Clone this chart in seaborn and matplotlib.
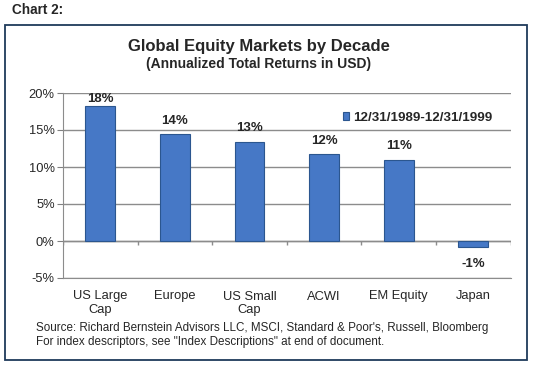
import matplotlib
matplotlib.use("Agg")
import matplotlib.pyplot as plt
import seaborn as sns
from matplotlib.patches import Rectangle

# chart data
categories = ["US Large\nCap", "Europe", "US Small\nCap", "ACWI", "EM Equity", "Japan"]
returns = [18.3, 14.4, 13.4, 11.7, 11.0, -0.8]
series_name = "12/31/1989-12/31/1999"
yticks = [-5, 0, 5, 10, 15, 20]

sns.set_style("white")
plt.rcParams["font.family"] = ["Liberation Sans", "DejaVu Sans"]

fig = plt.figure(figsize=(5.36, 3.72), dpi=100)
ax = fig.add_axes([63 / 536, 1 - 278 / 372, 447.7 / 536, 185 / 372])

bar_col = "#4678C6"
sns.barplot(x=categories, y=returns, color=bar_col, saturation=1, width=0.4, ax=ax,
            edgecolor="#2B568F", linewidth=0.8, label=series_name, zorder=3)

ax.set_ylim(-5, 20)
ax.set_xlim(-0.5, len(categories) - 0.5)
ax.set_yticks(yticks)
ax.set_yticklabels([f"{t}%" for t in yticks], fontsize=9.3)
ax.tick_params(axis="y", length=4, color="#808080", pad=2, direction="out", left=True)
ax.tick_params(axis="x", length=0, pad=9, labelsize=9.3)
for lbl in ax.get_xticklabels():
    lbl.set_linespacing(1.15)
ax.yaxis.grid(True, color="#8c8c8c", linewidth=1.0, zorder=0)
ax.set_axisbelow(True)
for s in ["top", "right"]:
    ax.spines[s].set_visible(False)
ax.spines["left"].set_color("#8c8c8c")
ax.spines["bottom"].set_color("#8c8c8c")
ax.set_xlabel("")
ax.set_ylabel("")

# zero line with small category ticks
ax.axhline(0, color="#8c8c8c", linewidth=1.0, zorder=2)
for i in range(len(categories) + 1):
    ax.vlines(i - 0.5, -0.55, 0, color="#8c8c8c", linewidth=1.0, zorder=2)

# value labels
for i, v in enumerate(returns):
    if v >= 0:
        ax.text(i, min(v + 1.0, 18.4), f"{v:.0f}%", ha="center", va="bottom",
                fontsize=9.5, fontweight="bold")
    else:
        ax.text(i, v - 1.5, f"{round(v):.0f}%", ha="center", va="top",
                fontsize=9.5, fontweight="bold")

leg = ax.legend(loc="center left", bbox_to_anchor=(0.61, 0.865), frameon=False,
                handlelength=0.5, handleheight=0.5, handletextpad=0.25,
                borderpad=0, prop={"weight": "bold", "size": 9.6})

# titles and notes
fig.text(12 / 536, 1 - 10 / 372, "Chart 2:", fontsize=9.8, fontweight="bold",
         ha="left", va="center")
fig.text(259 / 536, 1 - 47 / 372, "Global Equity Markets by Decade", fontsize=12,
         fontweight="bold", ha="center", va="center")
fig.text(259 / 536, 1 - 64 / 372, "(Annualized Total Returns in USD)", fontsize=10,
         fontweight="bold", ha="center", va="center")
fig.text(36 / 536, 1 - 328 / 372,
         "Source: Richard Bernstein Advisors LLC, MSCI, Standard & Poor's, Russell, Bloomberg",
         fontsize=8.4, ha="left", va="center")
fig.text(36 / 536, 1 - 342 / 372,
         "For index descriptors, see \"Index Descriptions\" at end of document.",
         fontsize=8.4, ha="left", va="center")

# outer frame
fig.patches.append(Rectangle((4.5 / 536, 1 - 360 / 372), (527 - 4.5) / 536, (360 - 24.5) / 372,
                             transform=fig.transFigure, fill=False,
                             edgecolor="#1F3A5A", linewidth=1.3))

fig.savefig("out.png", dpi=100)
